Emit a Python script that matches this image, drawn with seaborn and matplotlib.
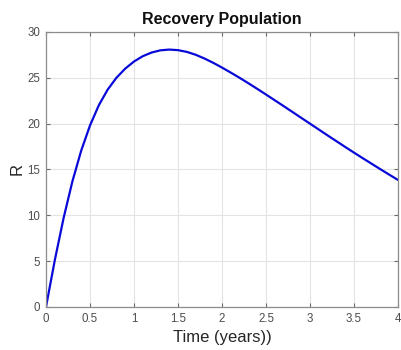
import matplotlib
matplotlib.use("Agg")
import matplotlib.pyplot as plt
import seaborn as sns
import pandas as pd

time_years = [0.0, 0.1, 0.2, 0.3, 0.4, 0.5, 0.6, 0.7, 0.8, 0.9, 1.0,
              1.1, 1.2, 1.3, 1.4, 1.5, 1.6, 1.7, 1.8, 1.9, 2.0,
              2.1, 2.2, 2.3, 2.4, 2.5, 2.6, 2.7, 2.8, 2.9, 3.0,
              3.1, 3.2, 3.3, 3.4, 3.5, 3.6, 3.7, 3.8, 3.9, 4.0]
recovered = [0.0, 5.1, 9.7, 13.7, 17.05, 19.8, 22.0, 23.7, 25.0, 26.0, 26.78,
             27.36, 27.76, 28.0, 28.08, 28.02, 27.83, 27.52, 27.11, 26.64, 26.12,
             25.57, 25.0, 24.41, 23.8, 23.18, 22.55, 21.92, 21.28, 20.64, 20.0,
             19.36, 18.72, 18.09, 17.46, 16.84, 16.23, 15.63, 15.03, 14.44, 13.86]
x_ticks = [0, 0.5, 1, 1.5, 2, 2.5, 3, 3.5, 4]
x_tick_labels = ["0", "0.5", "1", "1.5", "2", "2.5", "3", "3.5", "4"]
y_ticks = [0, 5, 10, 15, 20, 25, 30]
y_tick_labels = ["0", "5", "10", "15", "20", "25", "30"]

sns.set_style("white")
plt.rcParams['font.family'] = ['Liberation Sans', 'DejaVu Sans']

df = pd.DataFrame({"t": time_years, "R": recovered})

fig = plt.figure(figsize=(4.02, 3.5), dpi=100)
ax = fig.add_axes([0.1144, 0.1229, 0.8756, 0.7857])
sns.lineplot(data=df, x="t", y="R", ax=ax, color="#0a0ad8", linewidth=1.6)

ax.set_xlim(0, 4)
ax.set_ylim(0, 30)
ax.set_xticks(x_ticks)
ax.set_xticklabels(x_tick_labels)
ax.set_yticks(y_ticks)
ax.set_yticklabels(y_tick_labels)
ax.grid(True, color="#e3e3e3", linewidth=0.8)
ax.set_axisbelow(True)
for s in ax.spines.values():
    s.set_visible(True)
    s.set_color("#8c8c8c")
    s.set_linewidth(0.9)
ax.tick_params(direction="in", length=3, width=0.8, color="#6a6a6a",
               labelsize=8.3, labelcolor="#4d4d4d",
               top=True, right=True, bottom=True, left=True)
ax.tick_params(axis="x", pad=4)
ax.tick_params(axis="y", pad=4)

ax.set_title("Recovery Population", fontsize=11.5, fontweight="bold",
             color="#111111", pad=6)
ax.set_xlabel("Time (years))", fontsize=12, color="#262626", labelpad=4)
ax.set_ylabel("R", fontsize=12, color="#262626", labelpad=2)

fig.savefig("out.png", dpi=100)
